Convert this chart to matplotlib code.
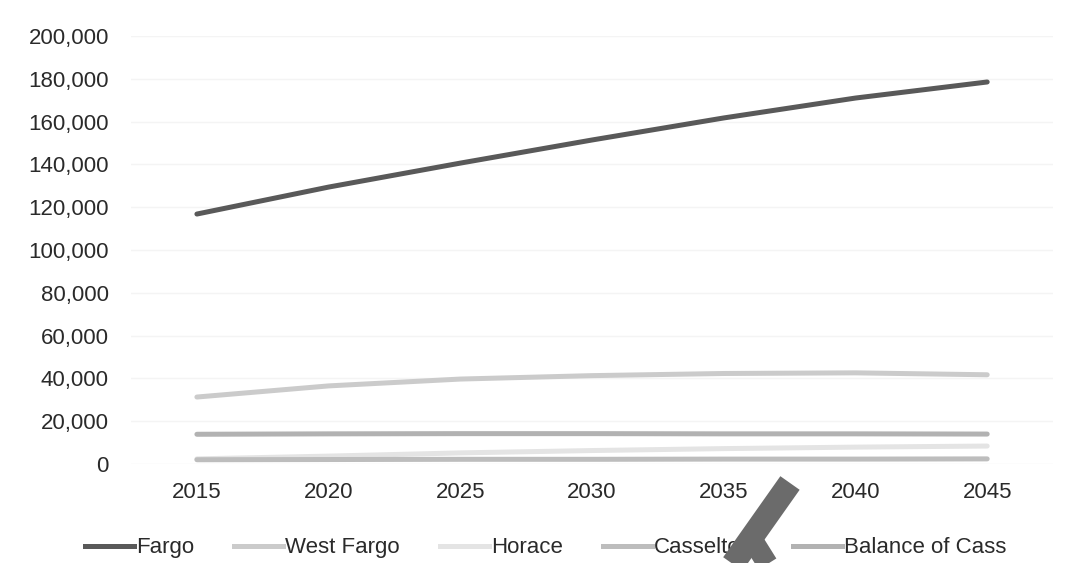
import numpy as np
import matplotlib.pyplot as plt
from matplotlib.ticker import FuncFormatter
from matplotlib.lines import Line2D

plt.rcParams['font.family'] = ['Liberation Sans', 'DejaVu Sans']

# Population projections by place
years = [2015, 2020, 2025, 2030, 2035, 2040, 2045]
fargo = [116800, 129400, 140600, 151400, 161700, 171000, 178500]
west_fargo = [31300, 36500, 39700, 41300, 42300, 42600, 41700]
horace = [2400, 3700, 5200, 6300, 7200, 7900, 8400]
casselton = [2000, 2100, 2200, 2200, 2300, 2300, 2400]
balance_of_cass = [13900, 14100, 14200, 14200, 14100, 14100, 14000]

names = ['Fargo', 'West Fargo', 'Horace', 'Casselton', 'Balance of Cass']
series = [fargo, west_fargo, horace, casselton, balance_of_cass]
colors = ['#595959', '#cbcbcb', '#e4e4e4', '#bdbdbd', '#b2b2b2']
widths = [3.6, 3.6, 3.6, 3.6, 3.6]

fig = plt.figure(figsize=(10.68, 5.63), dpi=100)
ax = fig.add_axes([0.1227, 0.1758, 0.8633, 0.7603])

x = np.arange(len(years))
for vals, name, c, w in zip(series, names, colors, widths):
    ax.plot(x, vals, color=c, lw=w, label=name, solid_capstyle='round')

ax.set_xlim(-0.5, len(years) - 0.5)
ax.set_ylim(0, 200000)
ax.set_yticks(np.arange(0, 200001, 20000))
ax.yaxis.set_major_formatter(FuncFormatter(lambda v, p: f'{int(v):,}'))
ax.set_xticks(x)
ax.set_xticklabels([str(y) for y in years])
ax.grid(axis='y', color='#f4f4f4', lw=1)
ax.set_axisbelow(True)
for s in ax.spines.values():
    s.set_visible(False)
ax.tick_params(length=0, labelsize=16, labelcolor='#2a2a2a')
ax.tick_params(axis='y', pad=16)
ax.tick_params(axis='x', pad=13)

handles = [Line2D([], [], color=c, lw=w) for c, w in zip(colors, widths)]
fig.legend(handles, names, loc='center', bbox_to_anchor=(0.511, 0.027), ncol=5,
           frameon=False, fontsize=16, handlelength=2.2, handletextpad=0.1,
           columnspacing=1.8, labelcolor='#2a2a2a')

# pen stroke over the legend
px = lambda xp, yp: (xp / 1068, 1 - yp / 563)
for (x0, y0), (x1, y1), lw in [((790, 483), (730, 568), 17), ((750, 536), (770, 568), 15)]:
    a, b = px(x0, y0), px(x1, y1)
    fig.add_artist(Line2D([a[0], b[0]], [a[1], b[1]], transform=fig.transFigure,
                          color='#6b6b6b', lw=lw, solid_capstyle='butt', zorder=10))

fig.savefig('out.png', dpi=100)
